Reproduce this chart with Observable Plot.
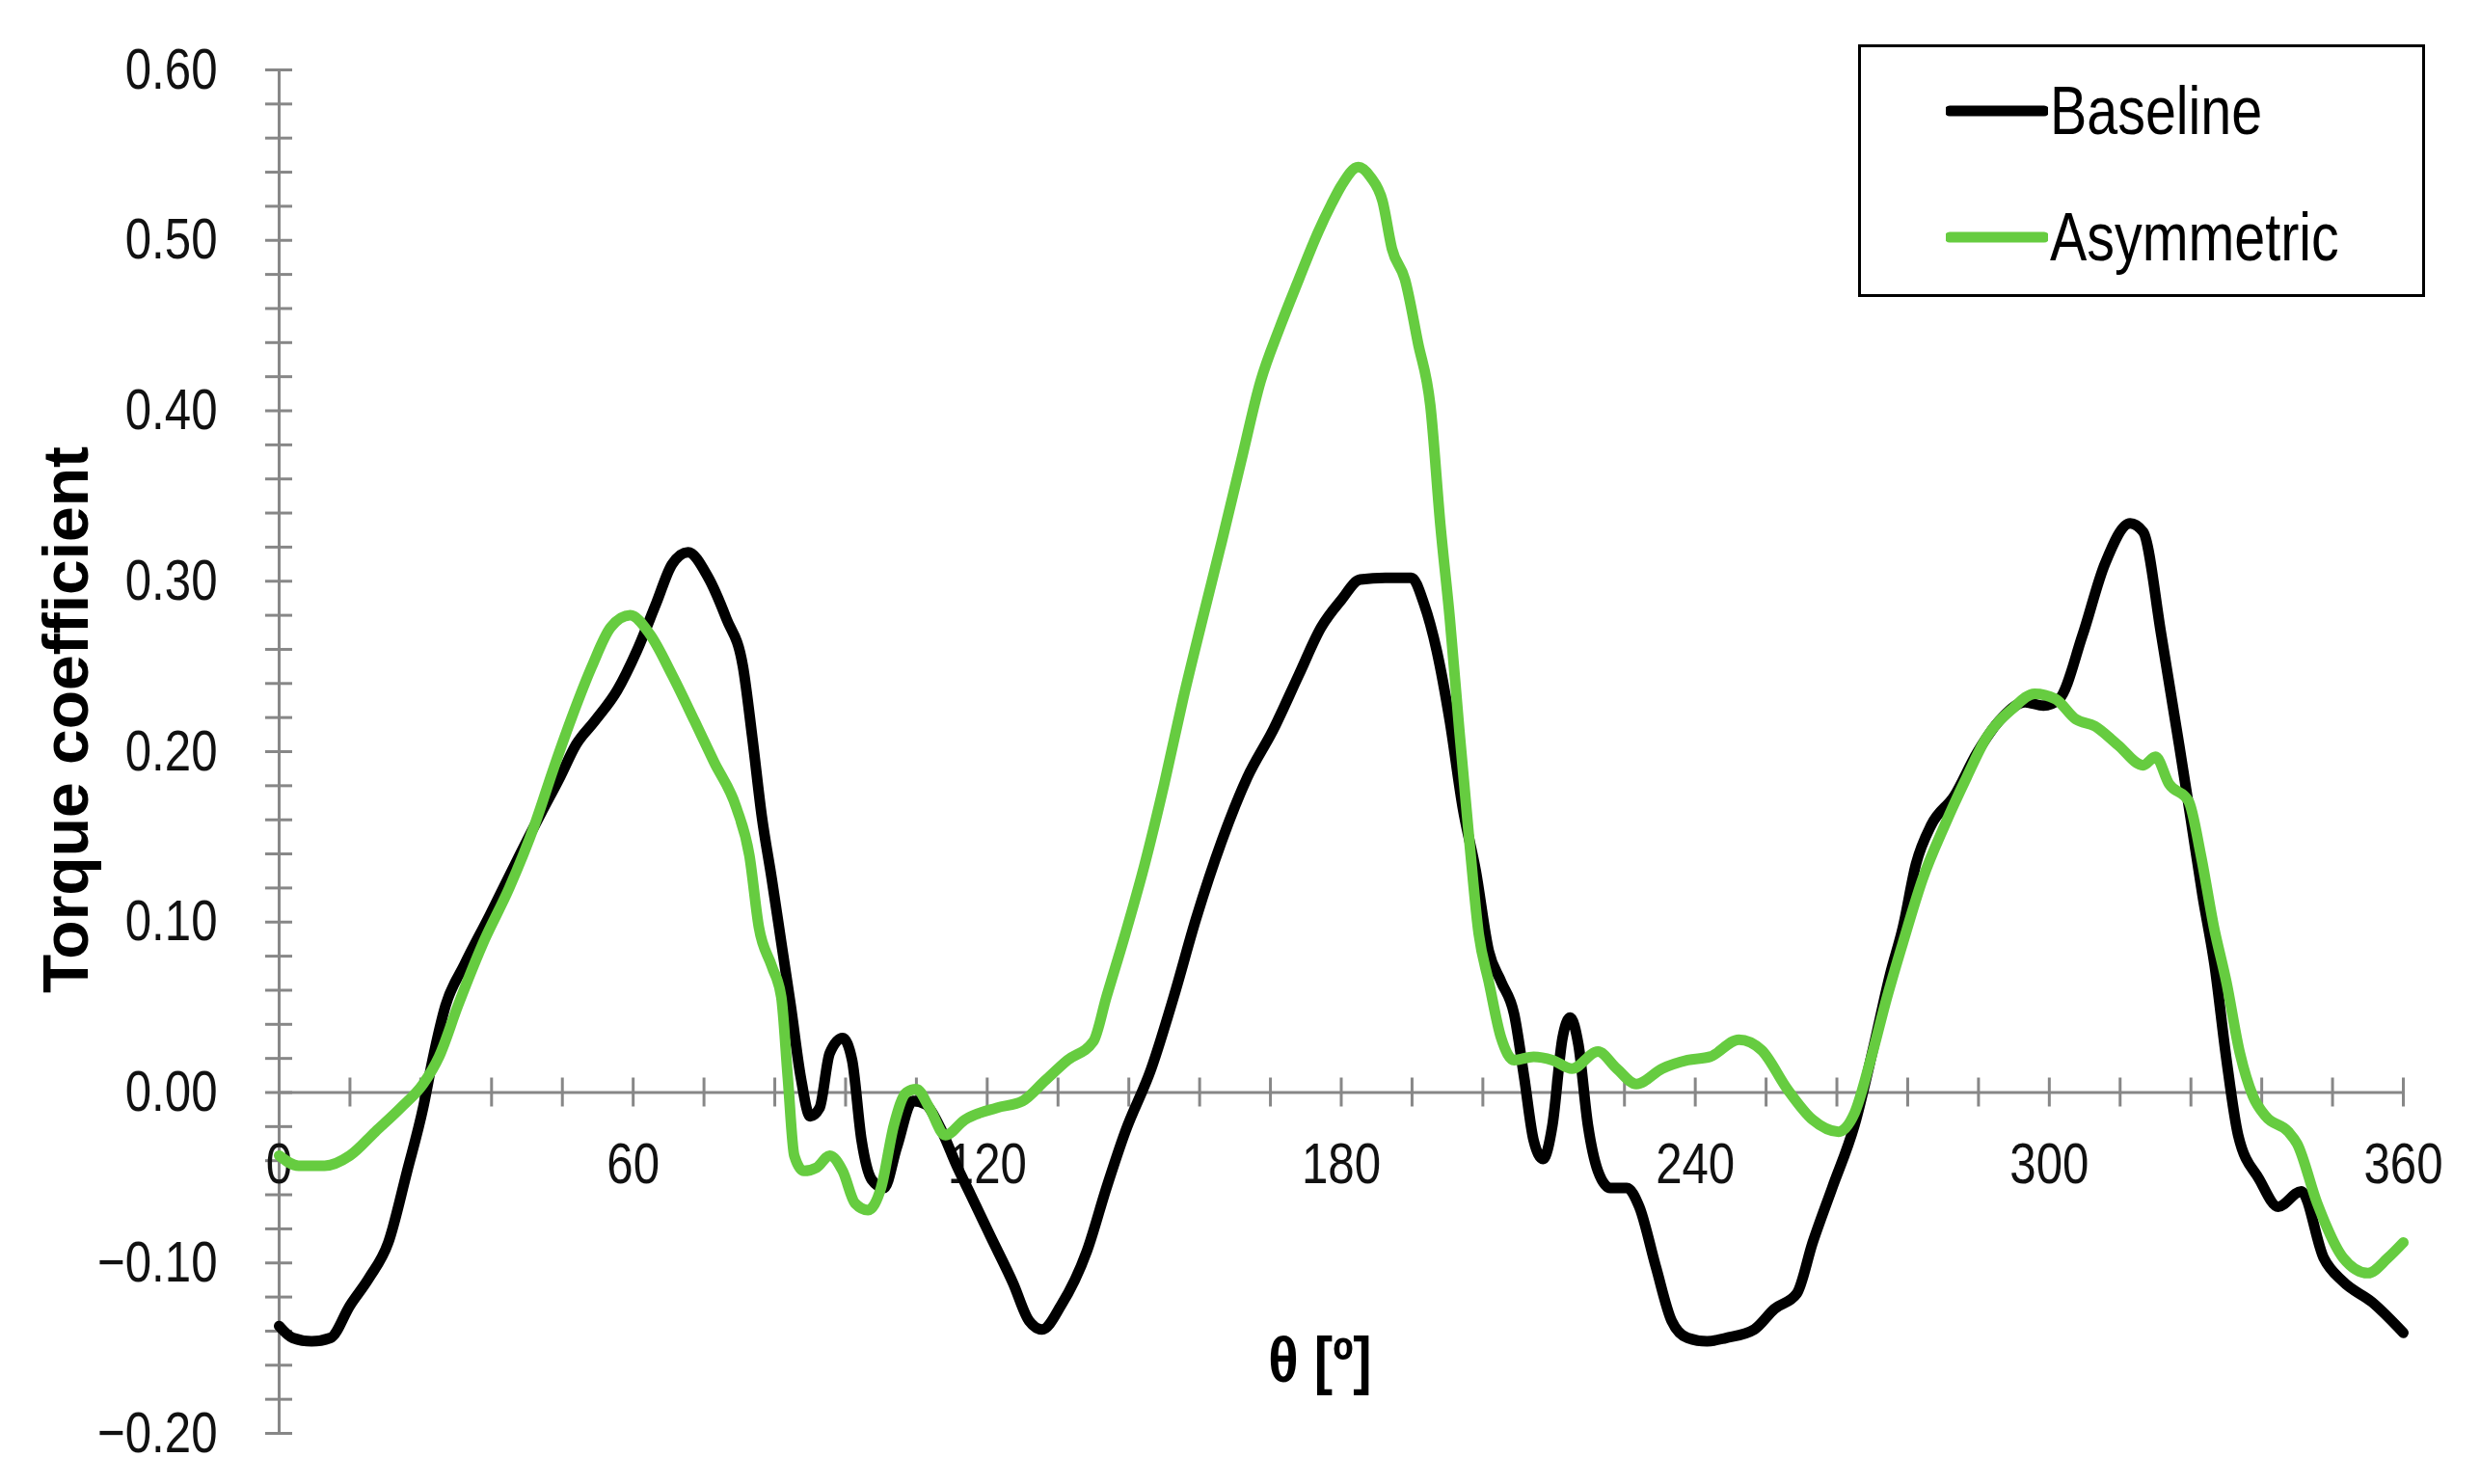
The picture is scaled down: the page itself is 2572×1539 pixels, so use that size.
<!DOCTYPE html>
<html>
<head>
<meta charset="utf-8">
<script src="https://cdn.jsdelivr.net/npm/d3@7"></script>
<script src="https://cdn.jsdelivr.net/npm/@observablehq/plot@0.6"></script>
<style>
  html, body { margin: 0; padding: 0; background: #fff; }
  #wrap { position: relative; width: 2572px; height: 1539px; }
  #legend {
    position: absolute; left: 1927px; top: 46px; width: 582px; height: 256px;
    border: 3px solid #000; background: #fff; box-sizing: content-box;
    font-family: "Liberation Sans", Arial, sans-serif;
  }
  .item { position: absolute; left: 0; height: 80px; display: flex; align-items: center; }
  .item svg { margin-left: 88px; }
  .item span { font-size: 70px; color: #000; margin-left: 2px; display: inline-block; transform: scaleX(0.82); transform-origin: 0 50%; }
</style>
</head>
<body>
<div id="wrap">
  <div id="chart"></div>
  <div id="legend"></div>
</div>
<script>
// ---- Data ----
const seriesNames = ["Baseline", "Asymmetric"];
const seriesColors = ["#000000", "#66cc40"];

const baselineTheta = [0,2.3,5.5,8.7,12,15.2,18.5,21.7,24.4,26,28.2,31.4,35.7,40,44.4,47.6,50.3,53.5,57.3,60.6,63.9,66.6,69.3,72.6,75.8,78.6,80.2,81.8,83.5,85.1,86.7,88.4,90,91.6,93.3,95.5,97.1,98.7,100.4,102.5,104.7,107.4,109.6,111.8,115.1,117.2,120.5,124.4,127.1,129.3,132.5,136.9,140.2,143.4,147.8,151.6,155.4,159.8,164.1,168.5,172.8,176.6,180,183.2,187.5,191.9,194,196.2,198.4,200.6,202.8,205,207.1,209.3,211,212.6,214.2,215.8,217.5,218.8,220.2,221.8,223.5,225.6,228.4,230.5,233.3,236,238.7,242,245.2,250,253.4,257.2,259.9,263.2,267,270.3,273,275.2,277.4,280,283.9,287.7,291.5,295.9,299,301.7,305.6,309.4,313.7,315.9,319,322,324,326,328,330,332,335.6,338.8,342.7,346.5,349.8,354.7,360];
const baselineCq = [-0.137,-0.144,-0.146,-0.144,-0.125,-0.109,-0.088,-0.046,-0.009,0.019,0.051,0.075,0.104,0.134,0.164,0.185,0.204,0.218,0.236,0.259,0.287,0.310,0.317,0.303,0.278,0.250,0.208,0.162,0.125,0.088,0.051,0.009,-0.014,-0.009,0.023,0.032,0.019,-0.028,-0.051,-0.056,-0.032,-0.005,-0.007,-0.019,-0.045,-0.060,-0.084,-0.112,-0.134,-0.139,-0.125,-0.093,-0.056,-0.023,0.014,0.056,0.102,0.148,0.185,0.213,0.245,0.273,0.289,0.301,0.302,0.302,0.287,0.259,0.218,0.167,0.130,0.083,0.065,0.046,0.009,-0.028,-0.039,-0.019,0.032,0.044,0.028,-0.019,-0.046,-0.056,-0.056,-0.067,-0.102,-0.134,-0.144,-0.146,-0.144,-0.139,-0.127,-0.118,-0.088,-0.056,-0.019,0.028,0.069,0.097,0.134,0.157,0.174,0.199,0.218,0.229,0.227,0.231,0.268,0.310,0.334,0.329,0.268,0.204,0.160,0.115,0.075,0.020,-0.025,-0.051,-0.067,-0.058,-0.097,-0.111,-0.123,-0.141];

const asymTheta = [0,3.3,7.7,12,16.3,20.6,24.4,27.1,30.3,34.6,39,43.3,46.5,49.8,53,56.2,59.5,62.8,66.6,70.4,73.7,77.5,79.7,81.3,83.5,85.1,86.2,87.3,88.9,91.1,93.3,95.5,97.6,99.8,102,104.2,106.3,108,110.2,112.9,116.2,121.6,126,129.8,133.6,138,140.2,143.4,146.7,150,153.2,156.5,159.8,163,166.3,169.6,172.8,176.1,178.3,180,182.9,185,187,188.6,190.8,193,195.1,196.8,198.4,200,201.7,203.3,205,207.1,209.3,212.6,215.8,219.1,223.5,226.7,230,234.4,238.7,242.5,247.4,251.2,255.6,259.9,264.3,267,269.7,272.5,275.2,278.5,282.3,286,289.3,293.7,297.5,301,304.5,307.7,311.6,315.9,318,320.3,323.6,325.7,327.9,330,332.3,334.5,336.7,340.5,342,345.4,349.8,354,357.4,360];
const asymCq = [-0.037,-0.043,-0.043,-0.037,-0.023,-0.009,0.005,0.021,0.051,0.088,0.120,0.157,0.190,0.222,0.250,0.273,0.280,0.269,0.245,0.218,0.194,0.167,0.139,0.097,0.074,0.056,0.009,-0.037,-0.046,-0.044,-0.037,-0.046,-0.065,-0.069,-0.056,-0.019,0.000,0.002,-0.009,-0.025,-0.016,-0.009,-0.005,0.007,0.019,0.030,0.056,0.093,0.134,0.181,0.231,0.278,0.324,0.370,0.417,0.449,0.477,0.505,0.521,0.532,0.543,0.537,0.523,0.495,0.477,0.440,0.403,0.333,0.278,0.213,0.148,0.093,0.065,0.032,0.019,0.021,0.019,0.014,0.024,0.014,0.005,0.014,0.019,0.021,0.031,0.025,0.002,-0.016,-0.023,-0.012,0.019,0.056,0.088,0.125,0.157,0.185,0.208,0.225,0.234,0.231,0.219,0.215,0.204,0.192,0.197,0.181,0.171,0.139,0.097,0.065,0.023,-0.002,-0.014,-0.023,-0.030,-0.065,-0.097,-0.106,-0.097,-0.088];

const xTickLabels = [0, 60, 120, 180, 240, 300, 360];
const yTickLabels = [-0.2, -0.1, 0, 0.1, 0.2, 0.3, 0.4, 0.5, 0.6];
const xMinorTicks = d3.range(0, 361, 12);
const yMinorTicks = d3.range(-20, 61, 2).map(v => v / 100);

const xTitle = "θ [º]";
const yTitle = "Torque coefficient";

// ---- Build table ----
const rows = [
  ...baselineTheta.map((t, i) => ({series: seriesNames[0], theta: t, cq: baselineCq[i]})),
  ...asymTheta.map((t, i) => ({series: seriesNames[1], theta: t, cq: asymCq[i]}))
];

const axisGray = "#878787";
const baseFont = '"Liberation Sans", Arial, sans-serif';
const fmt = v => (v < 0 ? "\u2212" : "") + Math.abs(v).toFixed(2);

const chart = Plot.plot({
  width: 2572,
  height: 1539,
  marginLeft: 289,
  marginRight: 80,
  marginTop: 72,
  marginBottom: 53,
  x: {domain: [0, 360], axis: null},
  y: {domain: [-0.2, 0.6], axis: null},
  color: {domain: seriesNames, range: seriesColors},
  style: {fontFamily: baseFont, background: "#fff", overflow: "visible"},
  marks: [
    Plot.ruleX([0], {y1: -0.2, y2: 0.6, stroke: axisGray, strokeWidth: 3}),
    Plot.ruleY([0], {x1: 0, x2: 360, stroke: axisGray, strokeWidth: 3}),
    Plot.ruleY(yMinorTicks, {y: d => d, x1: 0, x2: 0, insetLeft: -14, insetRight: -14, stroke: axisGray, strokeWidth: 3}),
    Plot.ruleX(xMinorTicks, {x: d => d, y1: 0, y2: 0, insetTop: -15, insetBottom: -15, stroke: axisGray, strokeWidth: 3}),
    Plot.text(yTickLabels, {x: 0, y: d => d, text: fmt, textAnchor: "end", dx: -64, fontSize: 60, fill: "#111"}),
    Plot.text(xTickLabels, {x: d => d, y: 0, text: d => String(d), dy: 75, fontSize: 60, fill: "#111"}),
    Plot.line(rows, {x: "theta", y: "cq", z: "series", stroke: "series", strokeWidth: 11, curve: "monotone-x", strokeLinejoin: "round"}),
    Plot.text([yTitle], {frameAnchor: "left", textAnchor: "middle", lineAnchor: "middle", dx: -220, dy: -33, rotate: -90, fontSize: 66, fontWeight: "bold", fill: "#000"}),
    Plot.text([xTitle], {frameAnchor: "bottom", textAnchor: "middle", lineAnchor: "middle", dx: -22, dy: -75, fontSize: 66, fontWeight: "bold", fill: "#000"})
  ]
});

// Narrow (condensed) look for tick labels and the x title, as in the reference
const narrowSet = new Set([...yTickLabels.map(fmt), ...xTickLabels.map(String)]);
chart.querySelectorAll("text").forEach(t => {
  const s = t.textContent;
  const tr = t.getAttribute("transform") || "";
  if (narrowSet.has(s)) t.setAttribute("transform", tr + " scale(0.82,1)");
  else if (s === xTitle) t.setAttribute("transform", tr + " scale(0.88,1)");
});
document.getElementById("chart").appendChild(chart);

// ---- Legend ----
const legend = document.getElementById("legend");
seriesNames.forEach((name, i) => {
  const item = document.createElement("div");
  item.className = "item";
  item.style.top = (i === 0 ? 26 : 157) + "px";
  item.innerHTML = `<svg width="106" height="14"><line x1="4" y1="7" x2="102" y2="7" stroke="${seriesColors[i]}" stroke-width="11" stroke-linecap="round"/></svg><span>${name}</span>`;
  legend.appendChild(item);
});
</script>
</body>
</html>
